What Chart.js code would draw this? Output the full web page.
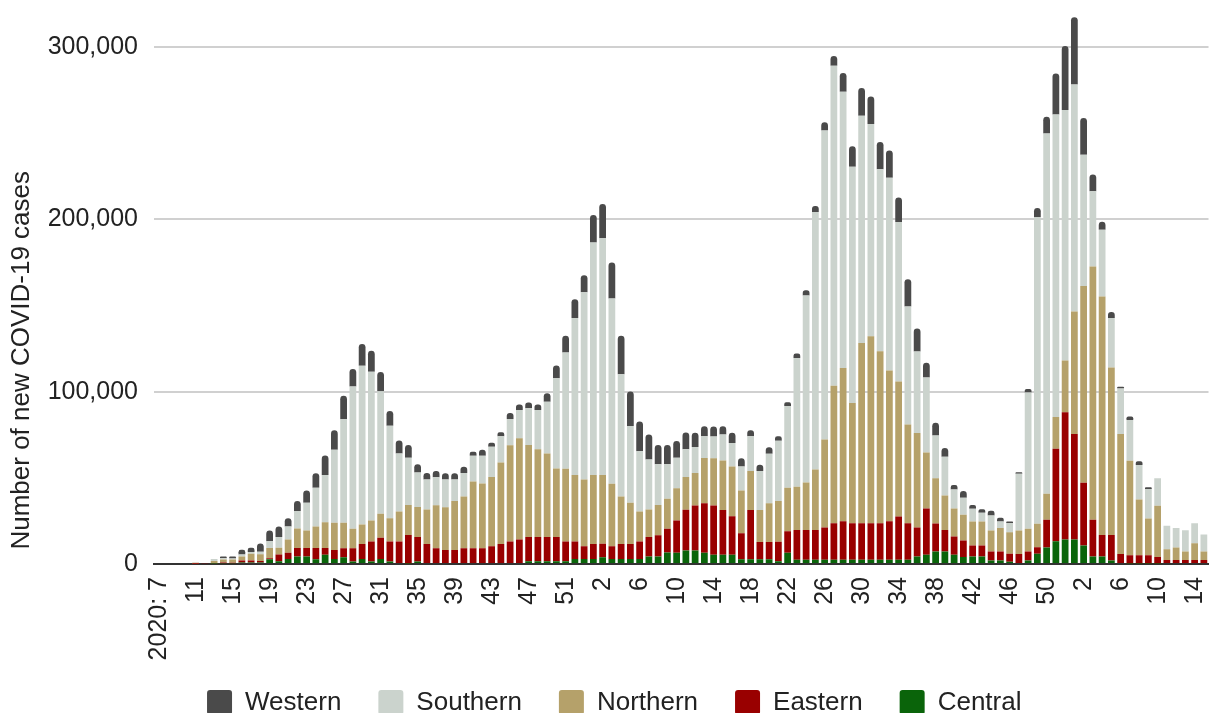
<!DOCTYPE html>
<html lang="en">
<head>
  <meta charset="UTF-8">
  <title>New COVID-19 cases by region</title>
  <script src="https://cdn.jsdelivr.net/npm/chart.js"></script>
  <style>
    html, body {
      margin: 0;
      padding: 0;
      background: #fff;
      overflow: hidden;
    }
    #chart {
      display: block;
    }
  </style>
</head>
<body>
  <canvas id="chart" width="1211" height="735"></canvas>

  <script>
    // ISO weeks, 2020 wk7 -> 2022 wk15
    const weeks = [
      "2020: 7", "8", "9", "10", "11", "12", "13", "14", "15", "16", "17", "18", "19", "20",
      "21", "22", "23", "24", "25", "26", "27", "28", "29", "30", "31", "32", "33", "34", "35",
      "36", "37", "38", "39", "40", "41", "42", "43", "44", "45", "46", "47", "48", "49", "50",
      "51", "52", "53",
      "1", "2", "3", "4", "5", "6", "7", "8", "9", "10", "11", "12", "13", "14", "15", "16",
      "17", "18", "19", "20", "21", "22", "23", "24", "25", "26", "27", "28", "29", "30", "31",
      "32", "33", "34", "35", "36", "37", "38", "39", "40", "41", "42", "43", "44", "45", "46",
      "47", "48", "49", "50", "51", "52",
      "1", "2", "3", "4", "5", "6", "7", "8", "9", "10", "11", "12", "13", "14", "15"
    ];

    const central = [
      0, 0, 0, 0,
      0, 0, 300, 500, 400, 800, 800, 800, 2700, 1600,
      2900, 4300, 4300, 2700, 5400, 2900, 3900, 1400, 2900, 1400,
      2900, 1400, 0, 300, 1400, 0, 0, 0, 0, 0,
      0, 0, 0, 0, 0, 0, 1600, 1600, 1600, 1600,
      1600, 2900, 2900,
      // 2021
      2900, 3900, 2900, 2900, 2900, 2900, 4300, 4300, 6700, 6600,
      7800, 7800, 6600, 5400, 5400, 5400, 2700, 2700, 2700, 2700,
      1600, 6600, 2400, 2400, 2400, 2400, 2400, 2400, 2400, 2400,
      2400, 2400, 2400, 2400, 2400, 4400, 5300, 7300, 7300, 5300,
      4000, 4400, 4400, 2100, 2100, 1300, 600, 2100, 5900, 9600,
      13200, 14200,
      // 2022
      14200, 10700, 4400, 4400, 2100, 600, 300, 300, 300, 300,
      0, 0, 0, 0, 0
    ];

    const eastern = [
      0, 0, 0, 0,
      100, 400, 200, 300, 300, 1200, 1200, 1000, 600, 3900,
      3700, 5000, 5000, 6600, 3900, 5200, 5200, 7800, 8700, 11600,
      12400, 11600, 13000, 16600, 14200, 11600, 9100, 8100, 8100, 9100,
      9100, 9100, 10300, 11600, 13000, 14200, 14000, 14000, 14000, 14000,
      11400, 10100, 7400,
      // 2021
      8700, 7800, 7400, 8700, 8700, 10100, 11300, 12400, 13700, 18600,
      23700, 26200, 28700, 28500, 26000, 22300, 15100, 28700, 10100, 10100,
      11300, 12400, 17400, 17400, 17400, 18800, 21200, 22400, 21200, 21200,
      21200, 21200, 22400, 25100, 21200, 16800, 26900, 16200, 12500, 10700,
      9700, 6300, 6300, 5200, 5200, 4600, 5200, 5200, 3800, 16100,
      53700, 73800,
      // 2022
      61200, 36400, 21300, 12500, 14800, 5200, 4800, 4800, 4800, 3800,
      2300, 2300, 2300, 2300, 2300
    ];

    const northern = [
      0, 0, 0, 0,
      600, 100, 1200, 1800, 1900, 2300, 3900, 3900, 6000, 3900,
      7600, 11300, 10100, 12400, 14900, 15900, 14900, 11300, 11300, 12200,
      13800, 13600, 17500, 17300, 17500, 20000, 25000, 24800, 28500, 30100,
      38800, 37600, 40200, 47300, 55900, 58800, 53500, 51000, 48500, 39800,
      42300, 38600, 38800,
      // 2021
      40000, 40000, 36300, 27500, 23900, 17500, 16100, 17500, 17500, 18800,
      19000, 18800, 26200, 27500, 28700, 28900, 24800, 22500, 18600, 22500,
      23700, 25200, 25100, 27500, 35000, 51100, 79800, 88900, 69900, 104700,
      108500, 99800, 87500, 78400, 57400, 54800, 32500, 26300, 20000, 16200,
      14900, 14000, 14000, 12100, 13600, 12500, 13600, 13200, 13600, 15000,
      18400, 30100,
      // 2022
      71100, 114300, 146900, 138400, 97200, 69600, 54800, 32400, 21300, 29700,
      6300, 7300, 5000, 9800, 5000
    ];

    const southern = [
      0, 0, 0, 0,
      100, 0, 1200, 700, 600, 1200, 1000, 1400, 3900, 6200,
      7600, 10100, 16100, 22500, 27400, 42300, 60000, 82500, 92200, 86300,
      71200, 53700, 33600, 27500, 20000, 17500, 16300, 16100, 12400, 13600,
      14900, 16100, 17500, 15300, 15300, 16300, 21300, 22700, 30100, 52400,
      67500, 91200, 108600,
      // 2021
      135000, 137400, 107500, 71000, 44600, 34900, 28900, 23700, 20000, 17700,
      16100, 15100, 12600, 12600, 15100, 13600, 14000, 20200, 22500, 28700,
      34900, 47500, 74600, 108500, 149500, 179200, 185700, 160400, 137000, 131900,
      123200, 105700, 111900, 92500, 68500, 47300, 43600, 24800, 22400, 11100,
      9900, 7300, 5000, 8800, 3800, 5400, 33000, 79000, 178100, 209200,
      175600, 145300,
      // 2022
      131700, 76100, 43700, 38700, 28600, 26500, 23600, 19900, 17100, 15900,
      13600, 11300, 12300, 11500, 9800
    ];

    const western = [
      0, 0, 0, 0,
      0, 0, 0, 1000, 1100, 2700, 2500, 4800, 6200, 6200,
      4800, 5800, 7200, 8500, 11300, 11300, 13600, 10100, 12600, 12200,
      11100, 8500, 7600, 7400, 4800, 3700, 3500, 3700, 3700, 3700,
      2300, 3500, 2300, 2300, 3500, 3300, 3300, 3300, 4900, 7400,
      9700, 10900, 9900,
      // 2021
      15900, 19800, 20800, 22300, 20000, 17300, 14600, 11100, 11100, 9700,
      9700, 8300, 5800, 5800, 4700, 6000, 4700, 3500, 3700, 3700,
      2700, 2100, 2600, 3000, 3400, 4800, 5700, 10900, 11900, 16000,
      16000, 15800, 15800, 14300, 15800, 13300, 8500, 7300, 5100, 2600,
      3800, 2300, 2100, 2700, 2100, 800, 800, 2100, 5200, 9600,
      23800, 37200,
      // 2022
      39100, 21300, 9800, 4600, 3600, 1000, 2100, 2300, 1000, 0,
      0, 0, 0, 0, 0
    ];

    const yTicks = [0, 100000, 200000, 300000];

    Chart.defaults.font.family = "'Liberation Sans', Arial, sans-serif";
    Chart.defaults.color = "#222";

    // legend sits a bit closer to the week labels than its padding allows
    const legendUp = {
      id: "legendUp",
      afterLayout(chart) {
        chart.legend.top -= 9.5;
        chart.legend.bottom -= 9.5;
      }
    };

    const ctx = document.getElementById("chart").getContext("2d");

    new Chart(ctx, {
      type: "bar",
      data: {
        labels: weeks,
        datasets: [
          { label: "Central", data: central, backgroundColor: "#0a640a" },
          { label: "Eastern", data: eastern, backgroundColor: "#990000" },
          { label: "Northern", data: northern, backgroundColor: "#b5a16a" },
          { label: "Southern", data: southern, backgroundColor: "#cbd3cd" },
          { label: "Western", data: western, backgroundColor: "#4a4a4a", borderRadius: 4 }
        ]
      },
      options: {
        responsive: false,
        animation: false,
        layout: { padding: { top: 10, left: 20, right: 2.5, bottom: 0 } },
        datasets: { bar: { barPercentage: 0.73, categoryPercentage: 1 } },
        plugins: {
          tooltip: { enabled: false },
          legend: {
            position: "bottom",
            reverse: true,
            labels: {
              boxWidth: 25,
              boxHeight: 25,
              padding: 37,
              useBorderRadius: true,
              borderRadius: 3,
              color: "#222",
              font: { size: 26 }
            }
          }
        },
        scales: {
          x: {
            stacked: true,
            grid: { display: false, drawTicks: false },
            border: { display: true, color: "#333", width: 2 },
            ticks: {
              autoSkip: false,
              maxRotation: 90,
              minRotation: 90,
              padding: 13,
              font: { size: 25 },
              callback: function (val, i) {
                return i % 4 === 0 ? this.getLabelForValue(val) : "";
              }
            },
            afterFit: (scale) => {
              scale.height = 98;
              scale.paddingLeft = 0;
              scale.paddingRight = 0;
            }
          },
          y: {
            stacked: true,
            min: 0,
            max: 321500,
            afterBuildTicks: (scale) => {
              scale.ticks = yTicks.map(v => ({ value: v }));
            },
            grid: {
              drawTicks: false,
              lineWidth: 2,
              color: (c) => c.tick && c.tick.value === 0 ? "#333" : "#d0d0d0"
            },
            border: { display: false },
            ticks: {
              padding: 16,
              font: { size: 25 },
              callback: (v) => v.toLocaleString("en-US")
            },
            title: {
              display: true,
              text: "  Number of new COVID-19 cases",
              align: "start",
              color: "#222",
              font: { size: 26 },
              padding: { top: -14, bottom: 0 }
            },
            afterFit: (scale) => {
              scale.width = 134;
              scale.paddingTop = 0;
              scale.paddingBottom = 0;
            }
          }
        }
      },
      plugins: [legendUp]
    });
  </script>
</body>
</html>
